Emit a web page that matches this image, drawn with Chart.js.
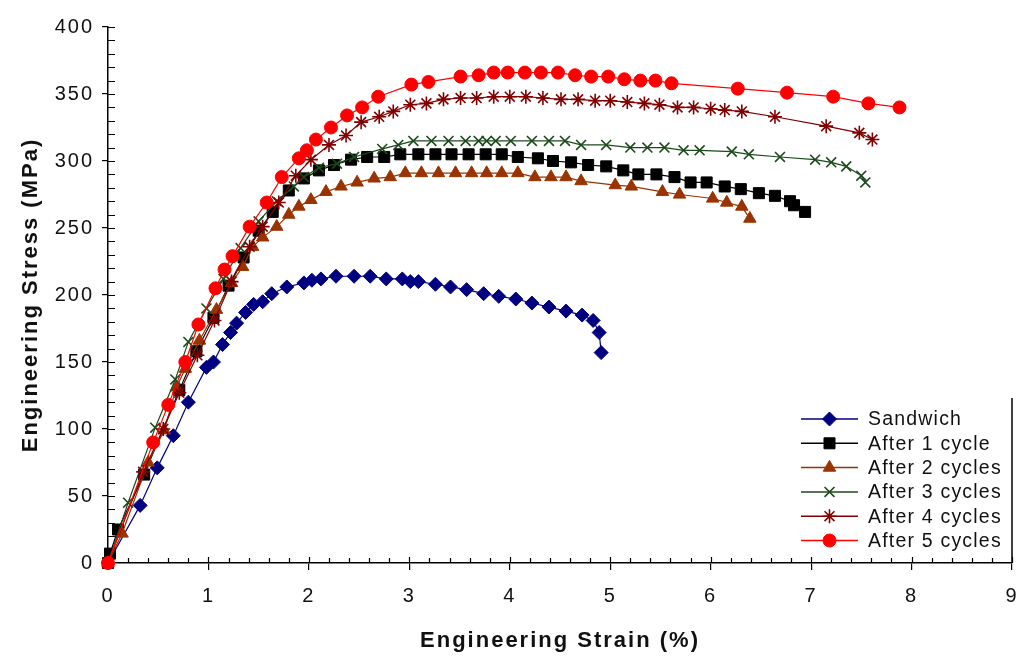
<!DOCTYPE html>
<html>
<head>
<meta charset="utf-8">
<script src="https://cdn.jsdelivr.net/npm/chart.js@4/dist/chart.umd.min.js"></script>
<style>
  html, body { margin: 0; padding: 0; background: #fff; }
  #wrap { width: 1023px; height: 656px; }
</style>
</head>
<body>
<div id="wrap"><canvas id="myChart" width="1023" height="656"></canvas></div>
<script>
// values (strain in %, stress in MPa)
const seriesNames = ['Sandwich', 'After 1 cycle', 'After 2 cycles', 'After 3 cycles', 'After 4 cycles', 'After 5 cycles'];

const sandwichStrain = [0, 0.32, 0.49, 0.65, 0.80, 0.98, 1.05, 1.14, 1.22, 1.28, 1.37, 1.45, 1.54, 1.63, 1.78, 1.95, 2.03, 2.12, 2.27, 2.45, 2.61, 2.77, 2.93, 3.01, 3.09, 3.26, 3.41, 3.57, 3.74, 3.89, 4.06, 4.22, 4.39, 4.56, 4.72, 4.83, 4.89, 4.91];
const sandwichStress = [0, 43, 71, 95, 120, 146, 150, 163, 172, 179, 187, 193, 195, 201, 206, 209, 211, 212, 214, 214, 214, 212, 212, 210, 210, 208, 206, 204, 201, 199, 197, 194, 191, 188, 185, 181, 172, 157];

const cycle1Strain = [0, 0.02, 0.10, 0.36, 0.71, 0.88, 1.05, 1.20, 1.35, 1.50, 1.64, 1.80, 1.95, 2.10, 2.25, 2.42, 2.58, 2.75, 2.91, 3.09, 3.26, 3.42, 3.59, 3.76, 3.92, 4.08, 4.28, 4.43, 4.61, 4.78, 4.96, 5.13, 5.28, 5.46, 5.64, 5.80, 5.96, 6.14, 6.30, 6.48, 6.64, 6.79, 6.83, 6.94];
const cycle1Stress = [0, 7, 25, 66, 129, 158, 183, 207, 228, 248, 262, 278, 287, 293, 297, 301, 303, 303, 305, 305, 305, 305, 305, 305, 305, 303, 302, 300, 299, 297, 296, 293, 290, 290, 288, 284, 284, 281, 279, 276, 274, 270, 267, 262];

const cycle2Strain = [0, 0.14, 0.40, 0.56, 0.68, 0.77, 0.91, 1.08, 1.23, 1.34, 1.44, 1.54, 1.68, 1.80, 1.90, 2.02, 2.17, 2.32, 2.48, 2.65, 2.81, 2.96, 3.12, 3.29, 3.46, 3.62, 3.77, 3.92, 4.08, 4.25, 4.41, 4.56, 4.71, 5.05, 5.21, 5.52, 5.69, 6.02, 6.16, 6.31, 6.39];
const cycle2Stress = [0, 22, 75, 99, 131, 145, 166, 189, 209, 221, 236, 243, 251, 260, 266, 271, 277, 281, 284, 287, 288, 291, 291, 291, 291, 291, 291, 291, 291, 288, 288, 288, 285, 282, 281, 277, 275, 272, 269, 266, 257];

const cycle3Strain = [0, 0.20, 0.47, 0.67, 0.80, 0.98, 1.15, 1.32, 1.50, 1.68, 1.85, 1.95, 2.10, 2.28, 2.45, 2.73, 2.89, 3.04, 3.22, 3.39, 3.56, 3.69, 3.77, 3.86, 4.01, 4.22, 4.39, 4.55, 4.71, 4.96, 5.20, 5.37, 5.54, 5.73, 5.89, 6.21, 6.38, 6.69, 7.04, 7.20, 7.35, 7.50, 7.54];
const cycle3Stress = [0, 45, 101, 137, 165, 190, 212, 235, 255, 270, 281, 288, 295, 298, 303, 309, 312, 315, 315, 315, 315, 315, 315, 315, 315, 315, 315, 315, 312, 312, 310, 310, 310, 308, 308, 307, 305, 303, 301, 299, 296, 289, 284];

const cycle4Strain = [0, 0.35, 0.55, 0.71, 0.89, 1.06, 1.23, 1.41, 1.54, 1.70, 1.87, 2.02, 2.20, 2.37, 2.52, 2.70, 2.84, 3.01, 3.17, 3.34, 3.51, 3.67, 3.84, 4.00, 4.16, 4.33, 4.51, 4.68, 4.85, 5.00, 5.17, 5.34, 5.49, 5.67, 5.83, 6.00, 6.14, 6.31, 6.64, 7.15, 7.48, 7.61];
const cycle4Stress = [0, 68, 100, 127, 155, 181, 210, 236, 251, 269, 289, 301, 312, 319, 329, 333, 337, 342, 343, 346, 347, 347, 348, 348, 348, 347, 346, 346, 345, 345, 344, 343, 342, 340, 340, 339, 338, 337, 333, 326, 321, 316];

const cycle5Strain = [0, 0.45, 0.60, 0.77, 0.90, 1.07, 1.16, 1.24, 1.41, 1.58, 1.73, 1.90, 1.98, 2.07, 2.22, 2.38, 2.53, 2.69, 3.02, 3.19, 3.51, 3.69, 3.84, 3.98, 4.15, 4.31, 4.48, 4.65, 4.81, 4.98, 5.14, 5.30, 5.45, 5.61, 6.27, 6.76, 7.22, 7.57, 7.88];
const cycle5Stress = [0, 90, 118, 150, 178, 205, 219, 229, 251, 269, 288, 302, 308, 316, 325, 334, 340, 348, 357, 359, 363, 364, 366, 366, 366, 366, 366, 364, 363, 363, 361, 360, 360, 358, 354, 351, 348, 343, 340];

const xTicks = [0, 1, 2, 3, 4, 5, 6, 7, 8, 9];
const yTicks = [0, 50, 100, 150, 200, 250, 300, 350, 400];

const strains = [sandwichStrain, cycle1Strain, cycle2Strain, cycle3Strain, cycle4Strain, cycle5Strain];
const stresses = [sandwichStress, cycle1Stress, cycle2Stress, cycle3Stress, cycle4Stress, cycle5Stress];

// look of each series
const colors = ['#000080', '#000000', '#993300', '#1c4a1c', '#800000', '#ff0000'];
const markers = ['rectRot', 'rect', 'triangle', 'crossRot', 'star', 'circle'];
const markerSizes = [7, 7.8, 7.2, 7, 7, 6.5];
const drawOrder = [5, 4, 3, 2, 1, 0];

Chart.defaults.font.family = '"Liberation Sans", Arial, sans-serif';
Chart.defaults.color = '#111';

const datasets = seriesNames.map((name, i) => ({
    label: name,
    data: strains[i].map((s, k) => ({ x: s, y: stresses[i][k] })),
    showLine: true,
    borderColor: colors[i],
    backgroundColor: colors[i],
    borderWidth: 1.2,
    tension: 0,
    pointStyle: markers[i],
    pointRadius: markerSizes[i],
    pointHoverRadius: markerSizes[i],
    pointBorderWidth: (markers[i] === 'crossRot' || markers[i] === 'star') ? 1.6 : 1,
    order: drawOrder[i],
    clip: false
}));

// minor ticks, inner halves of the major ticks, the legend box
const decor = {
    id: 'decor',
    beforeDraw(chart) {
        // the reference text is set wide
        chart.ctx.letterSpacing = '2px';
    },
    beforeDatasetsDraw(chart) {
        const { ctx, chartArea: a, scales: { x, y } } = chart;
        ctx.save();
        ctx.strokeStyle = '#000';
        ctx.lineWidth = 1.2;
        ctx.beginPath();
        for (let v = 0; v <= 90; v += 2) {
            const px = Math.round(x.getPixelForValue(v / 10)) + 0.5;
            ctx.moveTo(px, a.bottom);
            ctx.lineTo(px, a.bottom - (v % 10 === 0 ? 6 : 5));
        }
        for (let v = 0; v <= 400; v += 10) {
            const py = Math.round(y.getPixelForValue(v)) + 0.5;
            ctx.moveTo(a.left, py);
            ctx.lineTo(a.left + 7, py);
        }
        ctx.stroke();
        ctx.lineWidth = 1.5;
        ctx.beginPath();
        ctx.moveTo(a.right, a.bottom);
        ctx.lineTo(a.right, 398);
        ctx.stroke();
        ctx.restore();
    },
    afterDraw(chart) {
        const ctx = chart.ctx;
        const ds = chart.data.datasets;
        ctx.save();
        ctx.letterSpacing = '1.2px';
        ds.forEach((d, i) => {
            const cy = 419 + i * 24.3;
            ctx.strokeStyle = d.borderColor;
            ctx.lineWidth = 1.5;
            ctx.beginPath();
            ctx.moveTo(801, cy);
            ctx.lineTo(858, cy);
            ctx.stroke();
            ctx.fillStyle = d.backgroundColor;
            ctx.lineWidth = d.pointBorderWidth;
            Chart.helpers.drawPoint(ctx, { pointStyle: d.pointStyle, radius: d.pointRadius, borderWidth: d.pointBorderWidth, rotation: 0 }, 829.5, cy);
            ctx.fillStyle = '#111';
            ctx.font = '19.5px "Liberation Sans", Arial, sans-serif';
            ctx.textBaseline = 'middle';
            ctx.textAlign = 'left';
            ctx.fillText(d.label, 868, cy + 1);
        });
        ctx.restore();
    }
};

const myChart = document.getElementById('myChart');

new Chart(myChart, {
    type: 'scatter',
    data: { datasets: datasets },
    options: {
        responsive: false,
        animation: false,
        events: [],
        layout: { padding: { top: 27, right: 11, left: 0, bottom: 0 } },
        plugins: { legend: { display: false }, tooltip: { enabled: false } },
        scales: {
            x: {
                type: 'linear',
                min: 0,
                max: 9,
                afterBuildTicks: (s) => { s.ticks = xTicks.map(v => ({ value: v })); },
                afterFit: (s) => { s.height = 93; s.paddingRight = 0; s.paddingLeft = 0; },
                ticks: { font: { size: 20 }, padding: 14, maxRotation: 0 },
                grid: { drawOnChartArea: false, tickLength: 7, color: '#000', lineWidth: 1.2 },
                border: { color: '#000', width: 1.5 },
                title: { display: true, text: 'Engineering Strain (%)', font: { size: 22, weight: 'bold' }, color: '#111', padding: { top: 0, bottom: 2 } }
            },
            y: {
                type: 'linear',
                min: 0,
                max: 400,
                afterBuildTicks: (s) => { s.ticks = yTicks.map(v => ({ value: v })); },
                afterFit: (s) => { s.width = 108; },
                ticks: { font: { size: 20 }, padding: 8 },
                grid: { drawOnChartArea: false, tickLength: 6, color: '#000', lineWidth: 1.2 },
                border: { color: '#000', width: 1.5 },
                title: { display: true, text: 'Engineering Stress (MPa)', font: { size: 22, weight: 'bold' }, color: '#111', padding: { top: 18, bottom: 0 } }
            }
        }
    },
    plugins: [decor]
});
</script>
</body>
</html>
